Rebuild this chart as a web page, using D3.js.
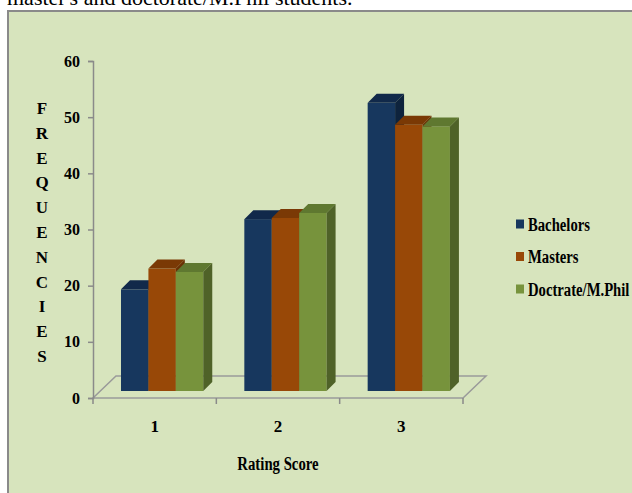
<!DOCTYPE html>
<html><head><meta charset="utf-8">
<script src="https://cdn.jsdelivr.net/npm/d3@7"></script>
<style>html,body{margin:0;padding:0;background:#fff;}svg{display:block;}</style>
</head><body>
<svg id="c" width="632" height="493"></svg>
<script>
const categories = ["1", "2", "3"];
const seriesNames = ["Bachelors", "Masters", "Doctrate/M.Phil"];
const bachelors = [18.1, 30.6, 51.3];
const masters = [21.8, 30.8, 47.4];
const doctrate = [21.2, 31.7, 47.1];
const yTicks = [0, 10, 20, 30, 40, 50, 60];
const yTitle = "FREQUENCIES";
const xTitle = "Rating Score";
const headerText = "master's and doctorate/M.Phil students.";

const seriesValues = [bachelors, masters, doctrate];
const frontColors = ["#17375E", "#984807", "#77933C"];
const topColors = ["#11294a", "#7a3905", "#5f7830"];
const sideColors = ["#0e233d", "#6a3104", "#4f6228"];

const svg = d3.select("#c");
const font = "'Liberation Serif','Times New Roman',serif";

// header text (cropped line of the document)
svg.append("text").attr("x", 7).attr("y", 5).attr("font-family", font)
  .attr("font-size", 22).attr("fill", "#000").text(headerText);

// chart frame
svg.append("rect").attr("x", 8).attr("y", 11).attr("width", 700).attr("height", 600)
  .attr("fill", "#D7E4BD").attr("stroke", "#8a8a8a").attr("stroke-width", 2);

const x = d3.scaleBand().domain(categories).range([93, 463]).padding(0);
const y = d3.scaleLinear().domain([0, 60]).range([398, 61]);
const inner = d3.scaleBand().domain(seriesNames)
  .range([x.bandwidth() * 0.227, x.bandwidth() * 0.894]).padding(0);
const dx = 9, dy = 9, depthFront = 7, fdx = 23, fdy = 22;

// floor
const x0 = x.range()[0], x1 = x.range()[1], yb = y(0);
svg.append("path")
  .attr("d", `M${x0},${yb}L${x1},${yb}L${x1 + fdx},${yb - fdy}L${x0 + fdx},${yb - fdy}Z`)
  .attr("fill", "none").attr("stroke", "#9a9a9a").attr("stroke-width", 1.5);

// y axis
const yAxis = d3.axisLeft(y).tickValues(yTicks).tickSize(5).tickPadding(8);
const ga = svg.append("g").attr("transform", `translate(${x0},0)`).call(yAxis);
ga.select(".domain").attr("stroke", "#8a8a8a").attr("stroke-width", 1.5);
ga.selectAll(".tick line").attr("stroke", "#8a8a8a").attr("stroke-width", 1.5);
ga.selectAll(".tick text").attr("font-family", font).attr("font-size", 16)
  .attr("font-weight", "bold").attr("fill", "#000");

// x axis
const xAxis = d3.axisBottom(x).tickSize(0).tickPadding(22);
const gx = svg.append("g").attr("transform", `translate(0,${yb})`).call(xAxis);
gx.select(".domain").remove();
gx.selectAll(".tick text").attr("font-family", font).attr("font-size", 17)
  .attr("font-weight", "bold").attr("fill", "#000");
const edges = categories.map(c => x(c)).concat([x1]);
gx.selectAll("line.edge").data(edges).enter().append("line")
  .attr("x1", d => d).attr("x2", d => d).attr("y1", 0).attr("y2", 6)
  .attr("stroke", "#8a8a8a").attr("stroke-width", 1.5);

// bars
categories.forEach((c, ci) => {
  seriesNames.forEach((s, si) => {
    const v = seriesValues[si][ci];
    const bx0 = x(c) + inner(s), bx1 = bx0 + inner.bandwidth();
    const yt = y(v) - depthFront, ybb = y(0) - depthFront;
    const g = svg.append("g");
    g.append("rect").attr("x", bx0).attr("y", yt).attr("width", bx1 - bx0)
      .attr("height", ybb - yt).attr("fill", frontColors[si]);
    g.append("path").attr("d", `M${bx0},${yt}L${bx0 + dx},${yt - dy}L${bx1 + dx},${yt - dy}L${bx1},${yt}Z`)
      .attr("fill", topColors[si]);
    g.append("path").attr("d", `M${bx1},${yt}L${bx1 + dx},${yt - dy}L${bx1 + dx},${ybb - dy}L${bx1},${ybb}Z`)
      .attr("fill", sideColors[si]);
  });
});

// y title (stacked letters)
svg.append("g").selectAll("text").data(yTitle.split("")).enter().append("text")
  .attr("x", 42).attr("y", (d, i) => 114 + i * 24.8).attr("text-anchor", "middle")
  .attr("font-family", font).attr("font-size", 17).attr("font-weight", "bold")
  .attr("fill", "#000").text(d => d);

// x title
const xt = svg.append("text").attr("x", 278).attr("y", 470).attr("text-anchor", "middle")
  .attr("font-family", font).attr("font-size", 18).attr("font-weight", "bold")
  .attr("fill", "#000").text(xTitle);
xt.attr("textLength", xt.node().getComputedTextLength() * 0.82).attr("lengthAdjust", "spacingAndGlyphs");

// legend
const lg = svg.append("g");
seriesNames.forEach((s, i) => {
  const cy = 224 + i * 32.5;
  lg.append("rect").attr("x", 516).attr("y", cy - 4.5).attr("width", 8).attr("height", 9).attr("fill", frontColors[i]);
  const t = lg.append("text").attr("x", 528).attr("y", cy + 6.5)
    .attr("font-family", font).attr("font-size", 18).attr("font-weight", "bold")
    .attr("fill", "#000").text(s);
  const len = Math.min(t.node().getComputedTextLength() * 0.815, 630 - 528);
  t.attr("textLength", len).attr("lengthAdjust", "spacingAndGlyphs");
});
</script>
</body></html>
